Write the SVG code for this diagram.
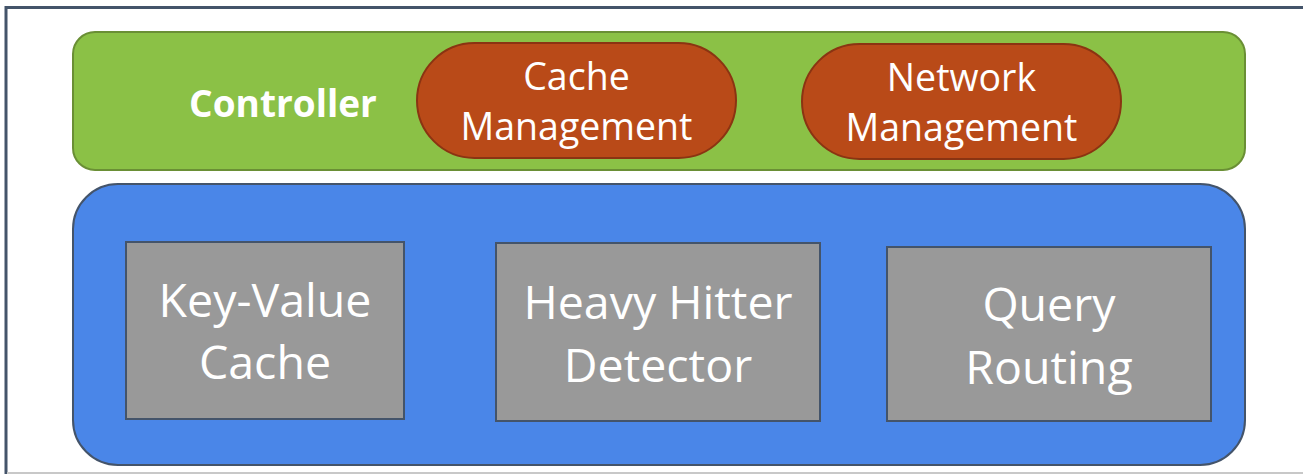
<svg xmlns="http://www.w3.org/2000/svg" width="1303" height="474" viewBox="0 0 1303 474">
<style>
.t{font-family:"Open Sans","Noto Sans",sans-serif;fill:#ffffff;text-anchor:middle}
.pill{fill:#b94a18;stroke:#8a3412;stroke-width:2}
.box{fill:#999999;stroke:#44546a;stroke-width:2}
.big{font-size:46.5px}
.mid{font-size:37.5px}
</style>
<rect x="0" y="0" width="1303" height="474" fill="#ffffff"/>
<g id="frame">
<path d="M1303 7.5 H6 V474" fill="none" stroke="#44546a" stroke-width="3"/>
<line x1="7" y1="473" x2="1303" y2="473" stroke="#c8c8c8" stroke-width="2"/>
</g>
<g id="controller">
<rect x="73" y="32" width="1172" height="138" rx="22" fill="#8bc146" stroke="#6a8f35" stroke-width="2"/>
<text class="t" x="283" y="117" font-size="37" font-weight="bold">Controller</text>
</g>
<g id="cache-management">
<rect class="pill" x="417" y="43" width="319" height="115" rx="57.5"/>
<text class="t mid" x="576.5" y="89.5">Cache</text>
<text class="t mid" x="576.5" y="139.5">Management</text>
</g>
<g id="network-management">
<rect class="pill" x="802" y="44" width="319" height="115" rx="57.5"/>
<text class="t mid" x="961.5" y="90.5">Network</text>
<text class="t mid" x="961.5" y="140.5">Management</text>
</g>
<g id="data-plane">
<rect x="73" y="184" width="1172" height="281" rx="45" fill="#4a86e8" stroke="#44546a" stroke-width="2"/>
</g>
<g id="key-value-cache">
<rect class="box" x="126" y="242" width="278" height="177"/>
<text class="t big" x="265" y="317">Key-Value</text>
<text class="t big" x="265" y="379">Cache</text>
</g>
<g id="heavy-hitter-detector">
<rect class="box" x="496" y="243" width="324" height="178"/>
<text class="t big" x="658" y="319">Heavy Hitter</text>
<text class="t big" x="658" y="382">Detector</text>
</g>
<g id="query-routing">
<rect class="box" x="887" y="247" width="324" height="174"/>
<text class="t big" x="1049" y="321">Query</text>
<text class="t big" x="1049" y="384">Routing</text>
</g>
<g id="connectors"></g>
</svg>
